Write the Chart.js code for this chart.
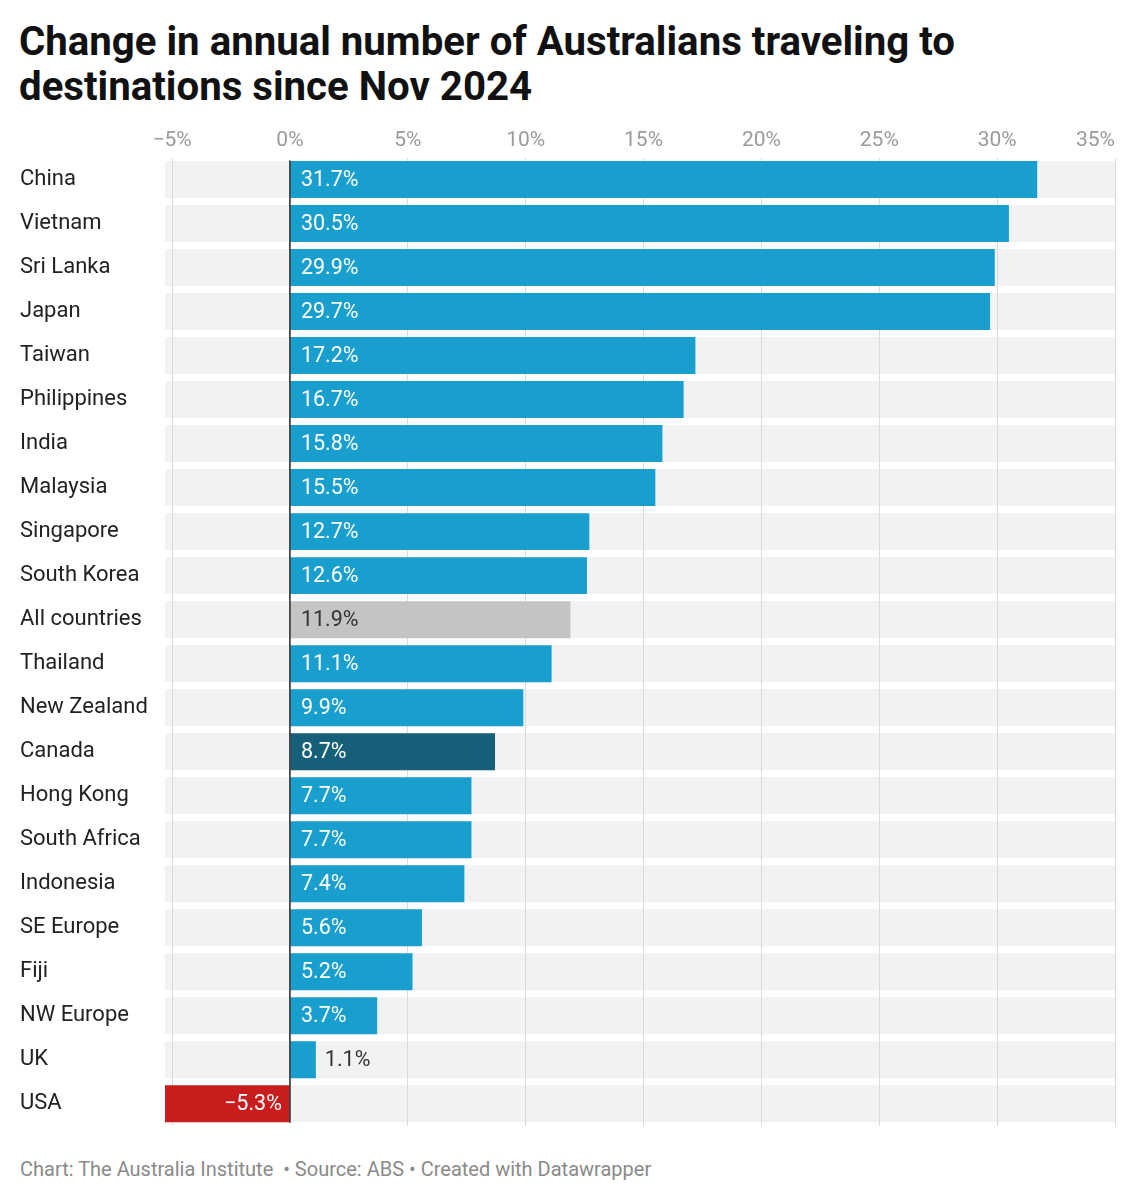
<!DOCTYPE html>
<html>
<head>
<meta charset="utf-8">
<script src="https://cdn.jsdelivr.net/npm/chart.js@4.4.1/dist/chart.umd.min.js"></script>
<style>
  body { margin: 0; background: #fff; font-family: Roboto, sans-serif; width: 1136px; height: 1200px; position: relative; overflow: hidden; }
  h1 { position: absolute; left: 19px; top: 19px; margin: 0; font-size: 40.2px; line-height: 45px; font-weight: 700; color: #111; }
  #wrap { position: absolute; left: 0; top: 110px; width: 1136px; height: 1032px; }
  .foot { position: absolute; left: 20px; top: 1157px; margin: 0; font-size: 20px; color: #8a8a8a; }
</style>
</head>
<body>
<h1>Change in annual number of Australians traveling to<br>destinations since Nov 2024</h1>
<div id="wrap"><canvas id="myChart"></canvas></div>
<p class="foot">Chart: The Australia Institute &nbsp;• Source: ABS • Created with Datawrapper</p>
<script>
// data
const categories = ['China', 'Vietnam', 'Sri Lanka', 'Japan', 'Taiwan', 'Philippines', 'India', 'Malaysia',
  'Singapore', 'South Korea', 'All countries', 'Thailand', 'New Zealand', 'Canada', 'Hong Kong',
  'South Africa', 'Indonesia', 'SE Europe', 'Fiji', 'NW Europe', 'UK', 'USA'];
const changePct = [31.7, 30.5, 29.9, 29.7, 17.2, 16.7, 15.8, 15.5, 12.7, 12.6, 11.9, 11.1, 9.9, 8.7, 7.7,
  7.7, 7.4, 5.6, 5.2, 3.7, 1.1, -5.3];
const tickValues = [-5, 0, 5, 10, 15, 20, 25, 30, 35];

const BLUE = '#189fce';
const fmt = v => (v < 0 ? '\u2212' : '') + Math.abs(v).toFixed(1) + '%';
const tickFmt = v => (v < 0 ? '\u2212' : '') + Math.abs(v) + '%';

function barColor(name, v) {
  if (v < 0) return '#c91d1d';
  if (name === 'All countries') return '#c4c4c4';
  if (name === 'Canada') return '#155f79';
  return BLUE;
}

// grey row bands behind each category, last x tick label right aligned
const bands = {
  id: 'bands',
  beforeDraw(chart) {
    const { ctx, chartArea, scales } = chart;
    const y = scales.y;
    const h = (y.getPixelForValue(1) - y.getPixelForValue(0)) * 0.84;
    ctx.save();
    ctx.fillStyle = '#f2f2f2';
    categories.forEach((c, i) => {
      const cy = y.getPixelForValue(i);
      ctx.fillRect(chartArea.left, cy - h / 2, chartArea.right - chartArea.left, h);
    });
    ctx.restore();

    const items = scales.x.getLabelItems(chartArea);
    if (items.length) items[items.length - 1].options.textAlign = 'right';
  }
};

// value labels + zero line
const valueLabels = {
  id: 'valueLabels',
  afterDatasetsDraw(chart) {
    const { ctx, chartArea, scales } = chart;
    const meta = chart.getDatasetMeta(0);
    const x0 = scales.x.getPixelForValue(0);
    ctx.save();
    ctx.font = '21.5px Roboto';
    ctx.textBaseline = 'middle';
    meta.data.forEach((bar, i) => {
      const v = changePct[i];
      const txt = fmt(v);
      const w = ctx.measureText(txt).width;
      let color = categories[i] === 'All countries' ? '#333' : '#fff';
      if (v < 0) {
        ctx.textAlign = 'right';
        ctx.fillStyle = color;
        ctx.fillText(txt, x0 - 8, bar.y + 1);
      } else if (bar.x - x0 < w + 20) {
        ctx.textAlign = 'left';
        ctx.fillStyle = '#333';
        ctx.fillText(txt, bar.x + 9, bar.y + 1);
      } else {
        ctx.textAlign = 'left';
        ctx.fillStyle = color;
        ctx.fillText(txt, x0 + 11, bar.y + 1);
      }
    });
    ctx.strokeStyle = '#222';
    ctx.lineWidth = 1.5;
    ctx.beginPath();
    ctx.moveTo(x0, chartArea.top + 3);
    ctx.lineTo(x0, chartArea.bottom - 3);
    ctx.stroke();
    ctx.restore();
  }
};

const ctx = document.getElementById('myChart').getContext('2d');
Chart.defaults.font.family = 'Roboto';

const myChart = new Chart(ctx, {
  type: 'bar',
  data: {
    labels: categories,
    datasets: [{
      data: changePct,
      backgroundColor: categories.map((c, i) => barColor(c, changePct[i])),
      barPercentage: 0.84,
      categoryPercentage: 1,
      borderWidth: 0
    }]
  },
  options: {
    indexAxis: 'y',
    responsive: true,
    maintainAspectRatio: false,
    animation: false,
    layout: { padding: { left: 20, right: 21, top: 0, bottom: 0 } },
    plugins: {
      legend: { display: false },
      tooltip: { enabled: false }
    },
    scales: {
      x: {
        position: 'top',
        min: -5.3,
        max: 35,
        afterBuildTicks: scale => { scale.ticks = tickValues.map(v => ({ value: v })); },
        afterFit: scale => {
          scale.height = 47.5;
          scale.paddingRight = 0;
          scale.paddingLeft = 0;
        },
        border: { display: false },
        grid: {
          drawTicks: false,
          color: c => c.tick && c.tick.value === 0 ? 'rgba(0,0,0,0)' : '#dadada',
          lineWidth: 1
        },
        ticks: {
          padding: 4,
          color: '#9a9a9a',
          font: { size: 21 },
          callback: v => tickFmt(v)
        }
      },
      y: {
        afterFit: scale => { scale.width = 145; },
        border: { display: false },
        grid: { display: false, drawTicks: false },
        ticks: {
          crossAlign: 'far',
          color: '#222',
          font: { size: 22 }
        }
      }
    }
  },
  plugins: [bands, valueLabels]
});
</script>
</body>
</html>
